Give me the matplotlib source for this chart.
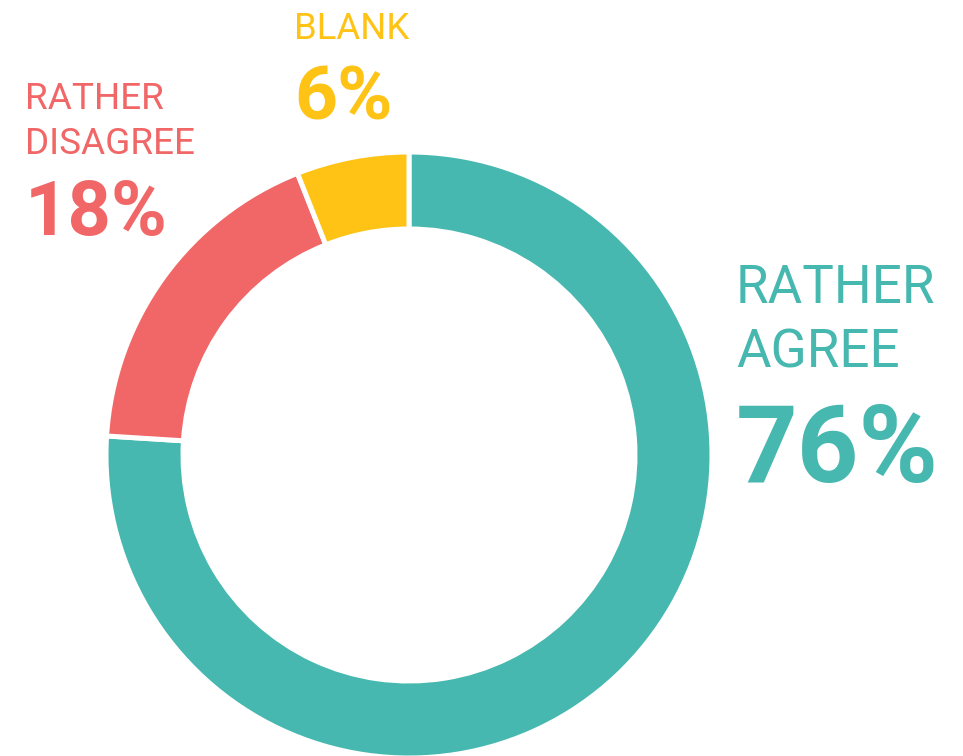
import matplotlib.pyplot as plt

# 数据
labels = ["RATHER AGREE", "RATHER DISAGREE", "BLANK"]
label_lines = [["RATHER", "AGREE"], ["RATHER", "DISAGREE"], ["BLANK"]]
values = [76, 18, 6]
colors = ["#46B8AF", "#F16767", "#FEC314"]

plt.rcParams['font.family'] = ['Roboto', 'DejaVu Sans']

W, H = 963, 756
fig = plt.figure(figsize=(W / 100, H / 100), dpi=100)
ax = fig.add_axes([0, 0, 1, 1])

# 环形图 (像素坐标, y 向上)
cx, cy = 409, H - 455
ax.pie(values, colors=colors, startangle=90, counterclock=False,
       center=(cx, cy), radius=303,
       wedgeprops=dict(width=77, edgecolor='white', linewidth=3.6))

ax.set_xlim(0, W)
ax.set_ylim(0, H)
ax.set_aspect('auto')
ax.axis('off')

# 标签布局: (x, 各行基线 y, 标签字号, 百分比基线 y, 百分比字号)
layout = [
    (736, [303, 367], 38.2, 482, 77.5),
    (25, [109, 154], 26.6, 235, 54.5),
    (294, [39], 26.3, 119, 54),
]

for (x, ys, fs, py, pfs), lines, v, c in zip(layout, label_lines, values, colors):
    for line, y in zip(lines, ys):
        ax.text(x, H - y, line, color=c, fontsize=fs, ha='left', va='baseline')
    ax.text(x, H - py, f"{v}%", color=c, fontsize=pfs, fontweight='bold',
            ha='left', va='baseline')

fig.savefig('out.png', dpi=100)
